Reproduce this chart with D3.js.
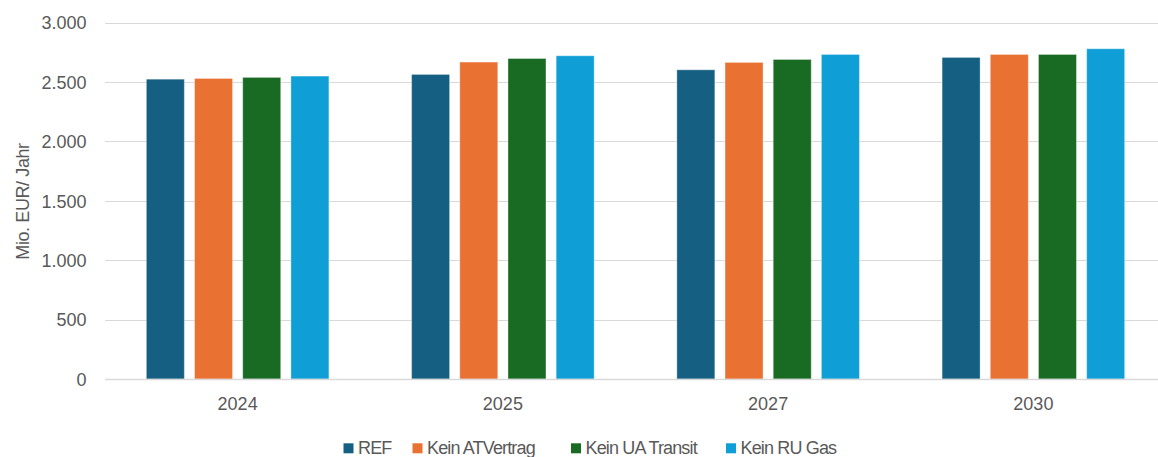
<!DOCTYPE html>
<html><head><meta charset="utf-8">
<script src="https://cdn.jsdelivr.net/npm/d3@7"></script>
<style>
html,body{margin:0;padding:0;background:#fff;}
svg{display:block;font-family:"Liberation Sans",Arial,sans-serif;}
</style></head>
<body><svg id="c" width="1158" height="457"></svg>
<script>
const categories = ["2024","2025","2027","2030"];
const seriesNames = ["REF","Kein ATVertrag","Kein UA Transit","Kein RU Gas"];
const seriesColors = ["#156082","#E97132","#196B24","#0F9ED5"];
const REF = [2523, 2563, 2602, 2706];
const keinAT = [2529, 2667, 2664, 2731];
const keinUA = [2538, 2697, 2689, 2731];
const keinRU = [2549, 2720, 2731, 2779];
const yTicks = [0,500,1000,1500,2000,2500,3000];
const yTickLabels = ["0","500","1.000","1.500","2.000","2.500","3.000"];
const yLabel = "Mio. EUR/ Jahr";
const seriesValues = [REF, keinAT, keinUA, keinRU];

(function(){
const svg = d3.select("#c");
const pLeft = 105, pRight = 1166, pTop = 22.5, pBottom = 379;
const x0 = d3.scaleBand().domain(categories).range([pLeft, pRight]).padding(0);
const x1 = d3.scaleBand().domain(seriesNames).range([0, x0.bandwidth()]).paddingInner(0.2116).paddingOuter(0.858);
const y = d3.scaleLinear().domain([0,3000]).range([pBottom, pTop]);

// gridlines
svg.append("g").selectAll("line").data(yTicks).join("line")
  .attr("x1", pLeft).attr("x2", 1158)
  .attr("y1", d=>Math.round(y(d))+0.5).attr("y2", d=>Math.round(y(d))+0.5)
  .attr("stroke","#D9D9D9").attr("stroke-width",1);

// y tick labels
svg.append("g").selectAll("text").data(yTicks).join("text")
  .attr("x", 86.5).attr("y", d=>y(d)+6.8)
  .attr("text-anchor","end").attr("font-size","18px").attr("fill","#595959")
  .text((d,i)=>yTickLabels[i]);

// y label
svg.append("text").attr("transform","translate(28.5,201.5) rotate(-90)")
  .attr("text-anchor","middle").attr("font-size","18px").attr("fill","#595959")
  .attr("letter-spacing","-0.4px")
  .text(yLabel);

// bars
const data = [];
categories.forEach((c,ci)=>seriesNames.forEach((s,si)=>data.push({c, s, si, v: seriesValues[si][ci]})));
svg.append("g").selectAll("rect").data(data).join("rect")
  .attr("x", d=>x0(d.c)+x1(d.s))
  .attr("width", x1.bandwidth())
  .attr("y", d=>y(d.v))
  .attr("height", d=>pBottom - y(d.v))
  .attr("fill", d=>seriesColors[d.si])
  .attr("stroke","rgba(255,255,255,0.35)").attr("stroke-width",1);

// x axis line
svg.append("line").attr("x1", pLeft).attr("x2",1158).attr("y1",pBottom+0.5).attr("y2",pBottom+0.5)
  .attr("stroke","#D9D9D9").attr("stroke-width",1.5);

// x labels
svg.append("g").selectAll("text").data(categories).join("text")
  .attr("x", d=>x0(d)+x0.bandwidth()/2).attr("y", 409.8)
  .attr("text-anchor","middle").attr("font-size","18px").attr("fill","#595959")
  .text(d=>d);

// legend
const legendX = [343.5, 412.5, 571, 726];
const lg = svg.append("g").selectAll("g").data(seriesNames).join("g")
  .attr("transform",(d,i)=>`translate(${legendX[i]},0)`);
lg.append("rect").attr("x",0).attr("y",443.3).attr("width",10).attr("height",10)
  .attr("fill",(d,i)=>seriesColors[i]);
lg.append("text").attr("x",14.5).attr("y",454).attr("font-size","18px").attr("fill","#595959")
  .attr("letter-spacing","-0.85px").text(d=>d);
})();
</script>
</body></html>
